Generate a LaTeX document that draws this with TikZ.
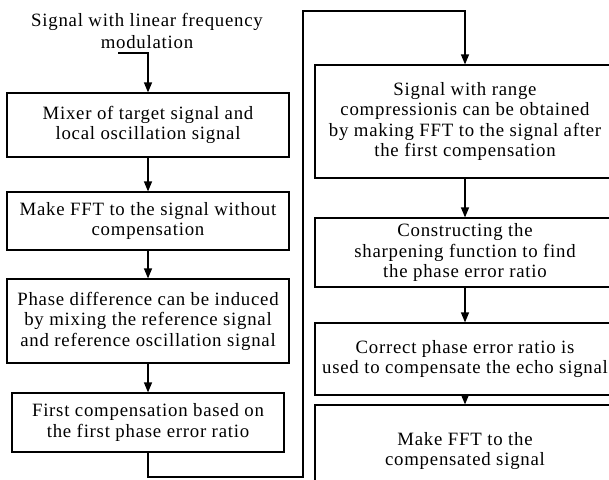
\documentclass[tikz,border=0pt]{standalone}
\usepackage{fontspec}
\setmainfont[LetterSpace=4]{Liberation Serif}
\usetikzlibrary{arrows.meta}
\tikzset{
  box/.style={draw, line width=1.2pt, align=center, inner sep=0pt, font=\fontsize{18.8}{20.5}\selectfont},
  lbl/.style={align=center, inner sep=0pt, font=\fontsize{18.8}{22}\selectfont},
  flow/.style={line width=1.2pt, -{Triangle[length=10pt,width=8pt]}},
  seg/.style={line width=1.2pt}
}
\begin{document}
\begin{tikzpicture}[x=1pt,y=-1pt]
\useasboundingbox (0,0) rectangle (609,479);
\fill[white] (0,0) rectangle (609,479);
\clip (0,0) rectangle (609,479);
\node[lbl] (t) at (147,31) {Signal with linear frequency\\modulation};
\node[box, minimum width=282pt, minimum height=64pt] (b1) at (148,125) {Mixer of target signal and\\local oscillation signal};
\node[box, minimum width=282pt, minimum height=58pt] (b2) at (148,221) {Make FFT to the signal without\\compensation};
\node[box, minimum width=282pt, minimum height=84pt] (b3) at (148,321) {Phase difference can be induced\\by mixing the reference signal\\and reference oscillation signal};
\node[box, minimum width=272pt, minimum height=59pt] (b4) at (148,422.5) {First compensation based on\\the first phase error ratio};
\node[box, minimum width=300pt, minimum height=113pt] (b5) at (465,121.5) {Signal with range\\compressionis can be obtained\\by making FFT to the signal after\\the first compensation};
\node[box, minimum width=300pt, minimum height=69pt] (b6) at (465,252.5) {Constructing the\\sharpening function to find\\the phase error ratio};
\node[box, minimum width=300pt, minimum height=72pt] (b7) at (465,359) {Correct phase error ratio is\\used to compensate the echo signal};
\node[box, minimum width=300pt, minimum height=92pt] (b8) at (465,451) {Make FFT to the\\compensated signal};
\coordinate (s) at (118,53);
\draw[flow] (s) -- (148,53) -- (b1.north);
\draw[flow] (b1) -- (b2);
\draw[flow] (b2) -- (b3);
\draw[flow] (b3) -- (b4);
\draw[flow] (b4.south) -- (148,477) -- (303,477) -- (303,11) -- (465,11) -- (b5.north);
\draw[flow] (b5) -- (b6);
\draw[flow] (b6) -- (b7);
\draw[flow] (b7) -- (b8);
\end{tikzpicture}
\end{document}
